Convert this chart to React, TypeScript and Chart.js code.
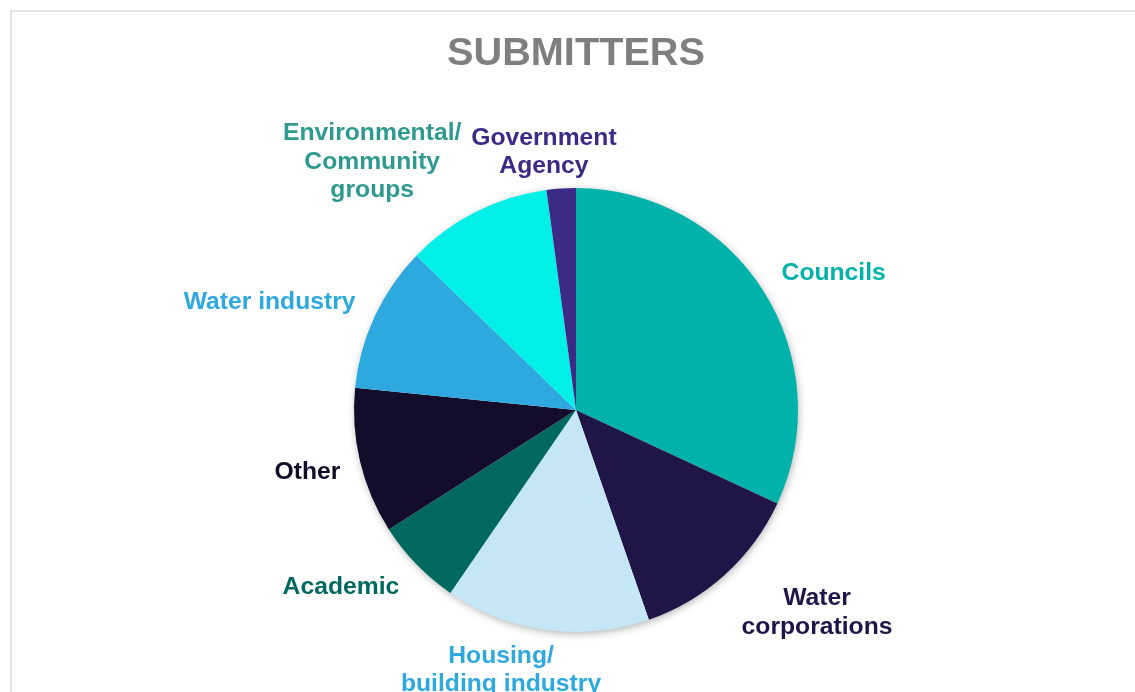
import React, { useEffect, useRef } from "react";
import { Chart, registerables } from "chart.js";

Chart.register(...registerables);

const chartTitle = "SUBMITTERS";
const categories = [
  "Councils",
  "Water corporations",
  "Housing/ building industry",
  "Academic",
  "Other",
  "Water industry",
  "Environmental/ Community groups",
  "Government Agency",
];
const labelLines = [
  ["Councils"],
  ["Water", "corporations"],
  ["Housing/", "building industry"],
  ["Academic"],
  ["Other"],
  ["Water industry"],
  ["Environmental/", "Community", "groups"],
  ["Government", "Agency"],
];
const submissions = [15, 6, 7, 3, 5, 5, 5, 1];
const sliceColors = [
  "#00B2A9",
  "#201547",
  "#C5E6F5",
  "#00695F",
  "#130D2B",
  "#2EA9DF",
  "#00F0E8",
  "#3C2A87",
];
const labelColors = [
  "#00B2A9",
  "#201547",
  "#2EA9DF",
  "#00695F",
  "#130D2B",
  "#2EA9DF",
  "#2E9A8F",
  "#3C2A87",
];

const FONT = '"Liberation Sans", Arial, sans-serif';

const clamp = (v: number) => Math.max(-1, Math.min(1, v));

const shadowPlugin = {
  id: "pieShadow",
  beforeDatasetsDraw(chart: any) {
    const meta = chart.getDatasetMeta(0);
    const arc = meta.data[0];
    if (!arc) return;
    const { x, y, outerRadius } = arc.getProps(["x", "y", "outerRadius"], true);
    const ctx = chart.ctx;
    ctx.save();
    ctx.shadowColor = "rgba(0,0,0,0.35)";
    ctx.shadowBlur = 9;
    ctx.shadowOffsetX = 1;
    ctx.shadowOffsetY = 2;
    ctx.fillStyle = "#ffffff";
    ctx.beginPath();
    ctx.arc(x, y, outerRadius - 1, 0, Math.PI * 2);
    ctx.fill();
    ctx.restore();
  },
};

const labelPlugin = {
  id: "outsideLabels",
  afterDatasetsDraw(chart: any) {
    const meta = chart.getDatasetMeta(0);
    const ctx = chart.ctx;
    const fontSize = 24.7;
    const lineH = 28.5;
    const gap = 10;
    const padX = 10;
    ctx.save();
    ctx.font = `bold ${fontSize}px ${FONT}`;
    ctx.textAlign = "center";
    ctx.textBaseline = "middle";
    meta.data.forEach((arc: any, i: number) => {
      const { x, y, startAngle, endAngle, outerRadius } = arc.getProps(
        ["x", "y", "startAngle", "endAngle", "outerRadius"],
        true
      );
      const mid = (startAngle + endAngle) / 2;
      const dx = Math.cos(mid);
      const dy = Math.sin(mid);
      const ax = x + dx * (outerRadius + gap);
      const ay = y + dy * (outerRadius + gap);
      const lines = labelLines[i];
      const hw = Math.max(...lines.map((l) => ctx.measureText(l).width)) / 2;
      const hh = (lines.length * lineH) / 2;
      const cx = ax + (hw + padX) * clamp(dx * 3);
      const cy = ay + hh * clamp(dy * 2) + 2;
      ctx.fillStyle = labelColors[i];
      lines.forEach((line, j) => {
        ctx.fillText(line, cx, cy - hh + lineH * (j + 0.5));
      });
    });
    ctx.restore();
  },
};

const titlePlugin = {
  id: "customTitle",
  afterDraw(chart: any) {
    const ctx = chart.ctx;
    const area = chart.chartArea;
    ctx.save();
    ctx.font = `bold 39.7px ${FONT}`;
    ctx.fillStyle = "#7F7F7F";
    ctx.textAlign = "center";
    ctx.textBaseline = "alphabetic";
    ctx.fillText(chartTitle, (area.left + area.right) / 2, 65);
    ctx.restore();
  },
};

export default function App() {
  const canvasRef = useRef<HTMLCanvasElement | null>(null);

  useEffect(() => {
    if (!canvasRef.current) return;
    const chart = new Chart(canvasRef.current, {
      type: "pie",
      data: {
        labels: categories,
        datasets: [
          {
            data: submissions,
            backgroundColor: sliceColors,
            borderWidth: 0,
          },
        ],
      },
      options: {
        responsive: false,
        animation: false,
        layout: { padding: { left: 354, right: 337, top: 188, bottom: 60 } },
        plugins: {
          legend: { display: false },
          tooltip: { enabled: false },
          title: { display: false },
        },
      },
      plugins: [shadowPlugin, labelPlugin, titlePlugin],
    });
    return () => chart.destroy();
  }, []);

  return (
    <div
      style={{
        position: "absolute",
        left: 0,
        top: 0,
        width: 1135,
        height: 692,
        overflow: "hidden",
        background: "#ffffff",
      }}
    >
      <div
        style={{
          position: "absolute",
          left: 10,
          top: 10,
          width: 1200,
          height: 720,
          border: "2px solid #E3E3E3",
        }}
      />
      <canvas
        ref={canvasRef}
        width={1135}
        height={692}
        style={{ position: "absolute", left: 0, top: 0, width: 1135, height: 692 }}
      />
    </div>
  );
}
